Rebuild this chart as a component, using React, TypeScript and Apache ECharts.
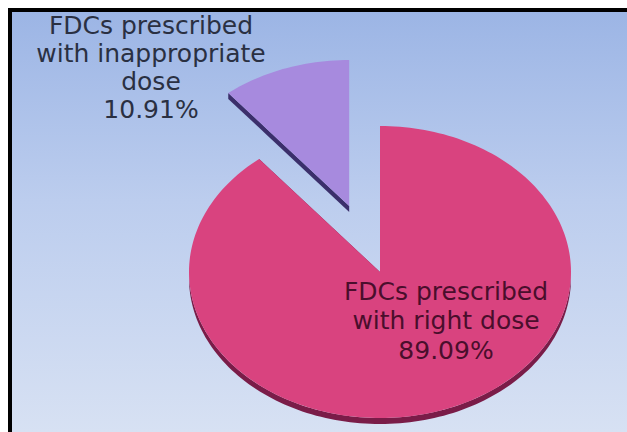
import { useEffect, useRef } from "react";
import * as echarts from "echarts";

// Share of fixed-dose combinations by dosing, in drawing order (clockwise from 12 o'clock)
const categories = ["FDCs prescribed with right dose", "FDCs prescribed with inappropriate dose"];
const shares = [89.09, 10.91];
const labelLines = [
  ["FDCs prescribed", "with right dose"],
  ["FDCs prescribed", "with inappropriate", "dose"],
];

const topColors = ["#d9437f", "#a78ade"];
const sideColors = ["#7a1c48", "#3b2f6b"];
const explodeBy = [0, 0.48];

// Tilted-pie geometry (chart pixels)
const PIE = { cx: 368, cy: 260, rx: 191, ry: 146, depth: 6 };
const FONT_SIZE = 25;
const LABEL_POS = [
  { x: 434, y: 308.5, lineHeight: 29.5, fill: "#4a0e2c" },
  { x: 139, y: 55, lineHeight: 28, fill: "#2a3042" },
];

export default function App() {
  const ref = useRef<HTMLDivElement>(null);

  useEffect(() => {
    if (!ref.current) return;
    const chart = echarts.init(ref.current, undefined, { renderer: "svg" });
    const total = shares.reduce((a, b) => a + b, 0);

    const renderItem = (params: any, api: any) => {
      const i = params.dataIndex;
      const value = api.value(0) as number;
      const before = shares.slice(0, i).reduce((a, b) => a + b, 0);
      const a0 = (before / total) * Math.PI * 2;
      const a1 = ((before + value) / total) * Math.PI * 2;
      const mid = (a0 + a1) / 2;
      const { cx, cy, rx, ry, depth } = PIE;
      const ox = Math.sin(mid) * explodeBy[i] * rx;
      const oy = -Math.cos(mid) * explodeBy[i] * ry;
      const pt = (t: number, dz = 0) => [cx + ox + rx * Math.sin(t), cy + oy - ry * Math.cos(t) + dz];
      const c0 = [cx + ox, cy + oy];
      const arc = (from: number, to: number, dz = 0) => {
        const n = Math.max(8, Math.ceil(((to - from) / (Math.PI * 2)) * 240));
        const pts: number[][] = [];
        for (let k = 0; k <= n; k++) pts.push(pt(from + ((to - from) * k) / n, dz));
        return pts;
      };

      const children: any[] = [];
      // outer wall, visible on the front half
      const w0 = Math.max(a0, Math.PI / 2);
      const w1 = Math.min(a1, (Math.PI * 3) / 2);
      if (w1 > w0) {
        const pts = arc(w0, w1).concat(arc(w0, w1, depth).reverse());
        children.push({ type: "polygon", shape: { points: pts }, style: { fill: sideColors[i] } });
      }
      // radial walls
      [a0, a1].forEach((t) => {
        const r = pt(t);
        const rd = pt(t, depth);
        children.push({
          type: "polygon",
          shape: { points: [c0, r, rd, [c0[0], c0[1] + depth]] },
          style: { fill: sideColors[i] },
        });
      });
      // top face
      children.push({
        type: "polygon",
        shape: { points: [c0].concat(arc(a0, a1)) },
        style: { fill: topColors[i] },
      });
      // label, one text per line
      const lp = LABEL_POS[i];
      const lines = labelLines[i].concat([`${value.toFixed(2)}%`]);
      lines.forEach((line, k) => {
        children.push({
          type: "text",
          style: {
            text: line,
            x: lp.x,
            y: lp.y + (k - (lines.length - 1) / 2) * lp.lineHeight,
            fill: lp.fill,
            fontSize: FONT_SIZE,
            fontFamily: "DejaVu Sans",
            align: "center",
            verticalAlign: "middle",
            lineHeight: FONT_SIZE,
          },
        });
      });
      return { type: "group", children };
    };

    chart.setOption({
      animation: false,
      backgroundColor: {
        type: "linear",
        x: 0,
        y: 0,
        x2: 0,
        y2: 1,
        colorStops: [
          { offset: 0, color: "#9cb5e5" },
          { offset: 0.45, color: "#bccdee" },
          { offset: 1, color: "#d7e1f3" },
        ],
      },
      series: [
        {
          type: "custom",
          coordinateSystem: "none",
          silent: true,
          renderItem,
          data: shares.map((v, i) => ({ name: categories[i], value: [v, i] })),
        },
      ],
    });
    return () => chart.dispose();
  }, []);

  return (
    <div
      style={{
        position: "fixed",
        left: 8,
        top: 8,
        width: 619,
        height: 424,
        boxSizing: "border-box",
        borderTop: "4px solid #000",
        borderLeft: "4px solid #000",
        background: "#fff",
      }}
    >
      <div ref={ref} style={{ width: 615, height: 420 }} />
    </div>
  );
}
